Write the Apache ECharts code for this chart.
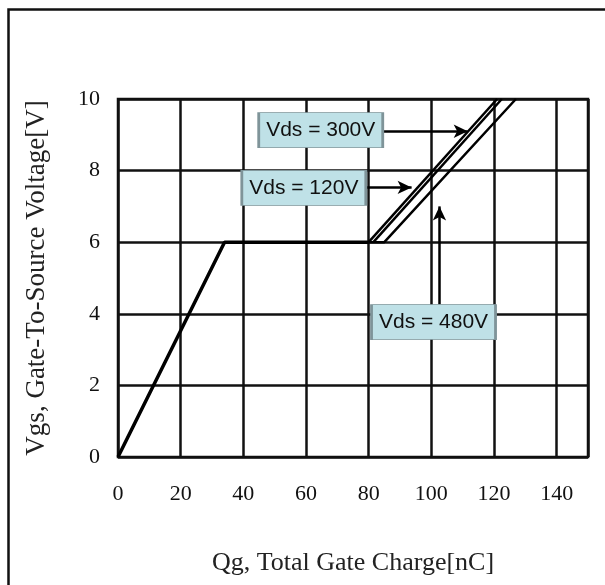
<!DOCTYPE html>
<html>
<head>
<meta charset="utf-8">
<script src="https://cdn.jsdelivr.net/npm/echarts@6/dist/echarts.min.js"></script>
<style>
html,body{margin:0;padding:0;background:#fff;}
#chart{width:605px;height:585px;}
</style>
</head>
<body>
<div id="chart"></div>
<script>
// gate charge curve: rise to plateau, then plateau
var mainCurve = [[0, 0], [34, 6], [80, 6]];
// after plateau, one line per Vds
var curve120 = [[80, 6], [121, 10]];
var curve300 = [[81.5, 6], [122.5, 10]];
var curve480 = [[80, 6], [85, 6], [127, 10]];

var xTicks = [0, 20, 40, 60, 80, 100, 120, 140];
var yTicks = [0, 2, 4, 6, 8, 10];

// labels: text, box centre [Qg, Vgs], arrow from, arrow to
var labelTexts = ['Vds = 300V', 'Vds = 120V', 'Vds = 480V'];
var labelCentres = [[64.7, 9.13], [59.3, 7.52], [100.7, 3.77]];
var arrowFrom = [[84.5, 9.1], [79, 7.53], [102.6, 4.26]];
var arrowTo = [[111.6, 9.1], [93.7, 7.53], [102.6, 7.0]];

var serif = '"Liberation Serif", "Times New Roman", serif';
var sans = '"Liberation Sans", Arial, sans-serif';

var myChart = echarts.init(document.getElementById('chart'));

var boxes = [];
for (var i = 0; i < labelTexts.length; i++) {
	boxes.push({
		coord: labelCentres[i],
		value: labelTexts[i]
	});
}
var arrows = [];
for (var j = 0; j < arrowFrom.length; j++) {
	arrows.push([{coord: arrowFrom[j]}, {coord: arrowTo[j]}]);
}

function lineSeries(name, data, width) {
	return {
		name: name,
		type: 'line',
		data: data,
		symbol: 'none',
		silent: true,
		lineStyle: {color: '#000', width: width},
		z: 3
	};
}

var option = {
	backgroundColor: '#fff',
	animation: false,
	grid: {left: 118, top: 99, right: 17, bottom: 128, show: true, borderColor: '#111', borderWidth: 2.5},
	xAxis: {
		type: 'value',
		min: 0,
		max: 150,
		interval: 20,
		name: 'Qg, Total Gate Charge[nC]',
		nameLocation: 'middle',
		nameGap: 93,
		nameTextStyle: {fontFamily: serif, fontSize: 26, color: '#222'},
		axisLine: {show: false},
		axisTick: {show: false},
		axisLabel: {
			fontFamily: serif, fontSize: 22, color: '#111', margin: 26,
			formatter: function (v) { return xTicks.indexOf(v) >= 0 ? String(v) : ''; }
		},
		splitLine: {show: true, lineStyle: {color: '#111', width: 2.5}}
	},
	yAxis: {
		type: 'value',
		min: 0,
		max: 10,
		interval: 2,
		name: 'Vgs, Gate-To-Source Voltage[V]',
		nameLocation: 'middle',
		nameGap: 68,
		nameTextStyle: {fontFamily: serif, fontSize: 27, color: '#222'},
		axisLine: {show: false},
		axisTick: {show: false},
		axisLabel: {
			fontFamily: serif, fontSize: 22, color: '#111', margin: 18,
			formatter: function (v) { return yTicks.indexOf(v) >= 0 ? String(v) : ''; }
		},
		splitLine: {show: true, lineStyle: {color: '#111', width: 2.5}}
	},
	series: [
		lineSeries('main', mainCurve, 3.5),
		lineSeries('120V', curve120, 2.5),
		lineSeries('300V', curve300, 2.5),
		lineSeries('480V', curve480, 2.5),
		{
			name: 'notes',
			type: 'line',
			data: [],
			silent: true,
			z: 5,
			markLine: {
				silent: true,
				symbol: ['none', 'arrow'],
				symbolSize: [10, 14],
				label: {show: false},
				lineStyle: {color: '#000', width: 2.5, type: 'solid'},
				data: arrows
			},
			markPoint: {
				silent: true,
				symbol: 'rect',
				symbolSize: [124, 35],
				itemStyle: {color: '#bfe1e7', borderColor: '#7f9499', borderWidth: 1.5},
				label: {
					show: true,
					position: 'inside',
					formatter: function (p) { return p.value; },
					fontFamily: sans,
					fontSize: 21,
					color: '#111'
				},
				data: boxes
			}
		}
	],
	graphic: [{
		type: 'rect',
		left: 6,
		top: 7,
		shape: {width: 700, height: 700},
		style: {fill: 'none', stroke: '#111', lineWidth: 2.5},
		silent: true,
		z: 10
	}]
};

myChart.setOption(option);
</script>
</body>
</html>
